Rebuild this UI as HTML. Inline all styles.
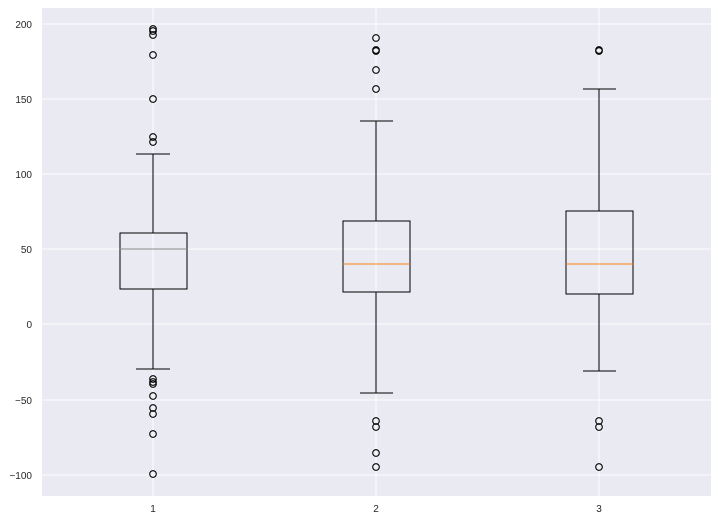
<!DOCTYPE html>
<html><head><style>body{margin:0;background:#fff}svg{display:block}text{font-family:"Liberation Sans",sans-serif;font-size:10px;fill:#262626}</style></head><body>
<svg width="718" height="520" xmlns="http://www.w3.org/2000/svg">
<rect x="42" y="8" width="669" height="488" fill="#eaeaf2"/>
<g stroke="#fff" stroke-width="1" shape-rendering="crispEdges">
<line x1="42" x2="711" y1="24" y2="24"/><line x1="42" x2="711" y1="99" y2="99"/><line x1="42" x2="711" y1="174" y2="174"/><line x1="42" x2="711" y1="249" y2="249"/><line x1="42" x2="711" y1="324" y2="324"/><line x1="42" x2="711" y1="400" y2="400"/><line x1="42" x2="711" y1="475" y2="475"/>
<line x1="153" x2="153" y1="8" y2="496"/><line x1="376" x2="376" y1="8" y2="496"/><line x1="599" x2="599" y1="8" y2="496"/>
</g>
<g text-anchor="end"><text x="32" y="28">200</text><text x="32" y="103">150</text><text x="32" y="178">100</text><text x="32" y="253">50</text><text x="32" y="328">0</text><text x="32" y="404">−50</text><text x="32" y="479">−100</text></g>
<g text-anchor="middle"><text x="153" y="512">1</text><text x="376" y="512">2</text><text x="599" y="512">3</text></g>
<g stroke="#000" stroke-width="1" fill="none" shape-rendering="crispEdges">
<rect x="120" y="233" width="67" height="56"/><line x1="153" x2="153" y1="233" y2="154"/><line x1="153" x2="153" y1="289" y2="369"/><line x1="136" x2="170" y1="154" y2="154"/><line x1="136" x2="170" y1="369" y2="369"/>
<rect x="343" y="221" width="67" height="71"/><line x1="376" x2="376" y1="221" y2="121"/><line x1="376" x2="376" y1="292" y2="393"/><line x1="360" x2="393" y1="121" y2="121"/><line x1="360" x2="393" y1="393" y2="393"/>
<rect x="566" y="211" width="67" height="83"/><line x1="599" x2="599" y1="211" y2="89"/><line x1="599" x2="599" y1="294" y2="371"/><line x1="583" x2="616" y1="89" y2="89"/><line x1="583" x2="616" y1="371" y2="371"/>
</g>
<g shape-rendering="crispEdges">
<line x1="120" x2="187" y1="249" y2="249" stroke="#8c8c8c"/>
<line x1="343" x2="410" y1="264" y2="264" stroke="#ff7f0e"/>
<line x1="566" x2="633" y1="264" y2="264" stroke="#ff7f0e"/>
</g>
<g stroke="#000" fill="none" stroke-width="1.1">
<circle cx="153" cy="29" r="3.3"/><circle cx="153" cy="31" r="3.3"/><circle cx="153" cy="35" r="3.3"/><circle cx="153" cy="55" r="3.3"/><circle cx="153" cy="99" r="3.3"/><circle cx="153" cy="137" r="3.3"/><circle cx="153" cy="142" r="3.3"/>
<circle cx="153" cy="379" r="3.3"/><circle cx="153" cy="382" r="3.3"/><circle cx="153" cy="384" r="3.3"/><circle cx="153" cy="396" r="3.3"/><circle cx="153" cy="408" r="3.3"/><circle cx="153" cy="414" r="3.3"/><circle cx="153" cy="434" r="3.3"/><circle cx="153" cy="474" r="3.3"/>
<circle cx="376" cy="38" r="3.3"/><circle cx="376" cy="50" r="3.3"/><circle cx="376" cy="51" r="3.3"/><circle cx="376" cy="70" r="3.3"/><circle cx="376" cy="89" r="3.3"/>
<circle cx="376" cy="421" r="3.3"/><circle cx="376" cy="427" r="3.3"/><circle cx="376" cy="453" r="3.3"/><circle cx="376" cy="467" r="3.3"/>
<circle cx="599" cy="50" r="3.3"/><circle cx="599" cy="51" r="3.3"/>
<circle cx="599" cy="421" r="3.3"/><circle cx="599" cy="427" r="3.3"/><circle cx="599" cy="467" r="3.3"/>
</g>
</svg>
</body></html>
